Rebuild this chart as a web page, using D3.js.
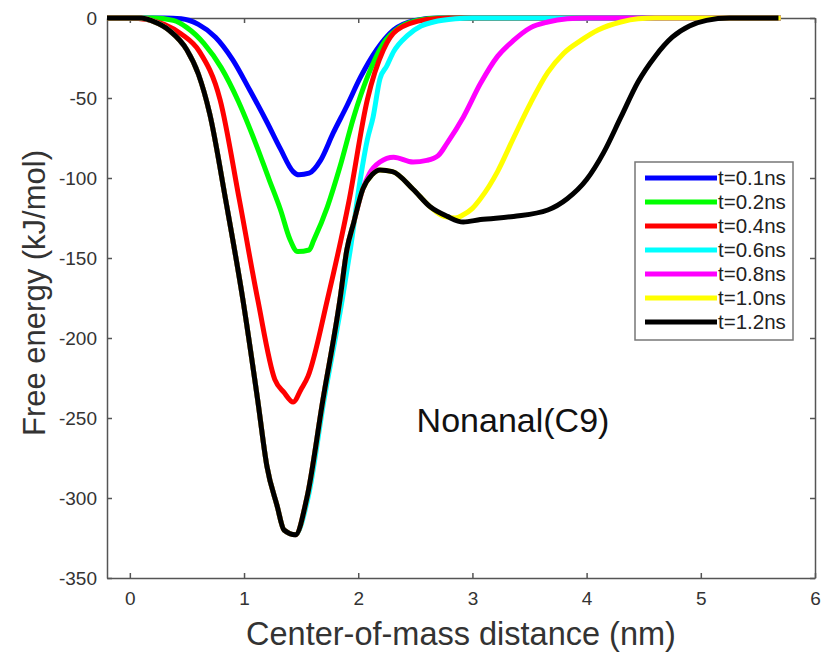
<!DOCTYPE html>
<html>
<head>
<meta charset="utf-8">
<script src="https://cdn.jsdelivr.net/npm/d3@7"></script>
<style>
  body { margin: 0; background: #fff; }
  svg { font-family: "Liberation Sans", Arial, sans-serif; }
  .axis path, .axis line { stroke: #555; stroke-width: 1.5; }
  .axis text { fill: #333; font-size: 19px; }
</style>
</head>
<body>
<svg id="canvas" width="822" height="654"></svg>
<script>
// free energy profiles, [distance nm, energy kJ/mol]
const t01 = [[-0.2,0],[0.3,0],[0.45,-0.5],[0.6,-4],[0.75,-12],[0.9,-26],[1.05,-45],[1.2,-65],[1.32,-82],[1.43,-96],[1.48,-98],[1.57,-97],[1.67,-89],[1.78,-72],[1.9,-55],[2.02,-37],[2.16,-20],[2.31,-7.5],[2.5,-1.5],[2.7,0],[5.7,0]];
const t02 = [[-0.2,0],[0.2,0],[0.38,-1.5],[0.5,-6],[0.65,-16],[0.8,-31],[0.95,-52],[1.1,-78],[1.22,-101],[1.32,-120],[1.4,-138],[1.47,-146],[1.57,-145],[1.61,-139],[1.73,-118],[1.84,-93],[1.96,-62],[2.08,-37],[2.22,-16],[2.37,-5.5],[2.55,-1],[2.7,0],[5.7,0]];
const t04 = [[-0.2,0],[0.0,0],[0.15,-1],[0.3,-4],[0.45,-10],[0.61,-21],[0.79,-51],[0.96,-114],[1.12,-176],[1.27,-226],[1.35,-234],[1.43,-240],[1.5,-232],[1.56,-224],[1.73,-176],[1.92,-114],[2.08,-51],[2.22,-20],[2.34,-7.5],[2.6,-1],[2.8,0],[5.7,0]];
const t06 = [[-0.2,0],[0.1,0],[0.2,-2],[0.35,-8],[0.5,-20],[0.6,-35],[0.7,-60],[0.84,-114],[0.99,-176],[1.12,-239],[1.2,-280],[1.29,-305],[1.35,-320],[1.45,-323],[1.56,-300],[1.7,-239],[1.86,-176],[1.93,-145],[2.02,-100],[2.08,-76],[2.13,-62],[2.19,-38],[2.25,-30],[2.31,-21],[2.43,-11],[2.55,-5],[2.66,-2.5],[2.85,-0.5],[3.0,0],[5.7,0]];
const t08 = [[-0.2,0],[0.1,0],[0.2,-2],[0.35,-8],[0.5,-20],[0.6,-35],[0.7,-60],[0.84,-114],[0.99,-176],[1.12,-239],[1.2,-280],[1.29,-305],[1.35,-320],[1.45,-323],[1.55,-300],[1.69,-239],[1.84,-176],[1.9,-145],[1.96,-128],[2.04,-107],[2.1,-97],[2.19,-90],[2.31,-87],[2.48,-90],[2.6,-89],[2.7,-86],[2.78,-78],[2.92,-62],[3.07,-41],[3.22,-24],[3.36,-14],[3.51,-6],[3.66,-2.5],[3.83,-0.5],[4.0,0],[5.7,0]];
const t10 = [[-0.2,0],[0.1,0],[0.2,-2],[0.35,-8],[0.5,-20],[0.6,-35],[0.7,-60],[0.84,-114],[0.99,-176],[1.12,-239],[1.2,-280],[1.29,-305],[1.35,-320],[1.45,-323],[1.55,-300],[1.69,-239],[1.84,-176],[1.9,-145],[1.96,-128],[2.04,-107],[2.12,-98],[2.19,-95],[2.3,-96],[2.48,-107],[2.63,-118],[2.75,-124],[2.85,-125],[2.92,-123],[3.0,-119],[3.07,-113],[3.22,-96],[3.36,-75],[3.51,-53],[3.66,-34],[3.8,-22],[3.95,-14],[4.1,-7.5],[4.3,-2.5],[4.45,-0.5],[4.6,0],[5.7,0]];
const t12 = [[-0.2,0],[0.1,0],[0.2,-2],[0.35,-8],[0.5,-20],[0.6,-35],[0.7,-60],[0.84,-114],[0.99,-176],[1.12,-239],[1.2,-280],[1.29,-305],[1.35,-320],[1.45,-323],[1.55,-300],[1.69,-239],[1.84,-176],[1.9,-145],[1.96,-128],[2.04,-107],[2.12,-98],[2.19,-95],[2.3,-96],[2.48,-107],[2.63,-118],[2.78,-124],[2.92,-127.5],[3.07,-126],[3.36,-124],[3.66,-120],[3.83,-113],[4.0,-101],[4.15,-84],[4.3,-62],[4.45,-40],[4.6,-24],[4.75,-12],[4.9,-5],[5.05,-1.5],[5.25,0],[5.68,0]];

const seriesData = [t01, t02, t04, t06, t08, t10, t12];
const seriesNames = ["t=0.1ns", "t=0.2ns", "t=0.4ns", "t=0.6ns", "t=0.8ns", "t=1.0ns", "t=1.2ns"];
const seriesColors = ["#0000ff", "#00ff00", "#ff0000", "#00ffff", "#ff00ff", "#ffff00", "#000000"];
const xTicks = [0, 1, 2, 3, 4, 5, 6];
const yTicks = [0, -50, -100, -150, -200, -250, -300, -350];

const svg = d3.select("#canvas");
const plotLeft = 107, plotRight = 815, plotTop = 18, plotBottom = 578;

const x = d3.scaleLinear().domain([-0.2, 6]).range([plotLeft, plotRight]);
const y = d3.scaleLinear().domain([-350, 0]).range([plotBottom, plotTop]);

svg.append("g").attr("class", "axis")
    .attr("transform", `translate(0,${plotBottom})`)
    .call(d3.axisBottom(x).tickValues(xTicks).tickFormat(d => String(d))
        .tickSizeInner(-5).tickSizeOuter(0).tickPadding(14));
svg.append("g").attr("class", "axis")
    .attr("transform", `translate(0,${plotTop})`)
    .call(d3.axisTop(x).tickValues(xTicks).tickSizeInner(-5).tickSizeOuter(0).tickFormat(""));
svg.append("g").attr("class", "axis")
    .attr("transform", `translate(${plotLeft},0)`)
    .call(d3.axisLeft(y).tickValues(yTicks).tickFormat(d => String(d))
        .tickSizeInner(-5).tickSizeOuter(0).tickPadding(10));
svg.append("g").attr("class", "axis")
    .attr("transform", `translate(${plotRight},0)`)
    .call(d3.axisRight(y).tickValues(yTicks).tickSizeInner(-5).tickSizeOuter(0).tickFormat(""));

const line = d3.line()
    .x(d => x(d[0]))
    .y(d => y(d[1]))
    .curve(d3.curveMonotoneX);

seriesData.forEach((s, i) => {
    svg.append("path")
        .datum(s)
        .attr("fill", "none")
        .attr("stroke", seriesColors[i])
        .attr("stroke-width", 5)
        .attr("stroke-linejoin", "round")
        .attr("d", line);
});

// legend
const legend = svg.append("g").attr("transform", "translate(635,162)");
legend.append("rect")
    .attr("width", 158).attr("height", 178)
    .attr("fill", "#fff").attr("stroke", "#777").attr("stroke-width", 1.5);
seriesNames.forEach((name, i) => {
    const ly = 16 + i * 24;
    legend.append("line")
        .attr("x1", 10).attr("x2", 82).attr("y1", ly).attr("y2", ly)
        .attr("stroke", seriesColors[i]).attr("stroke-width", 5);
    legend.append("text")
        .attr("x", 83).attr("y", ly).attr("dy", "0.35em")
        .attr("font-size", 20.5).attr("fill", "#222")
        .text(name);
});

svg.append("text")
    .attr("x", 513).attr("y", 420).attr("dy", "0.35em")
    .attr("text-anchor", "middle").attr("font-size", 34).attr("fill", "#111")
    .text("Nonanal(C9)");

svg.append("text")
    .attr("x", 461).attr("y", 634).attr("dy", "0.35em")
    .attr("text-anchor", "middle").attr("font-size", 32.5).attr("fill", "#333")
    .text("Center-of-mass distance (nm)");

svg.append("text")
    .attr("transform", "translate(34,293) rotate(-90)")
    .attr("dy", "0.35em")
    .attr("text-anchor", "middle").attr("font-size", 31).attr("fill", "#333")
    .text("Free energy (kJ/mol)");
</script>
</body>
</html>
